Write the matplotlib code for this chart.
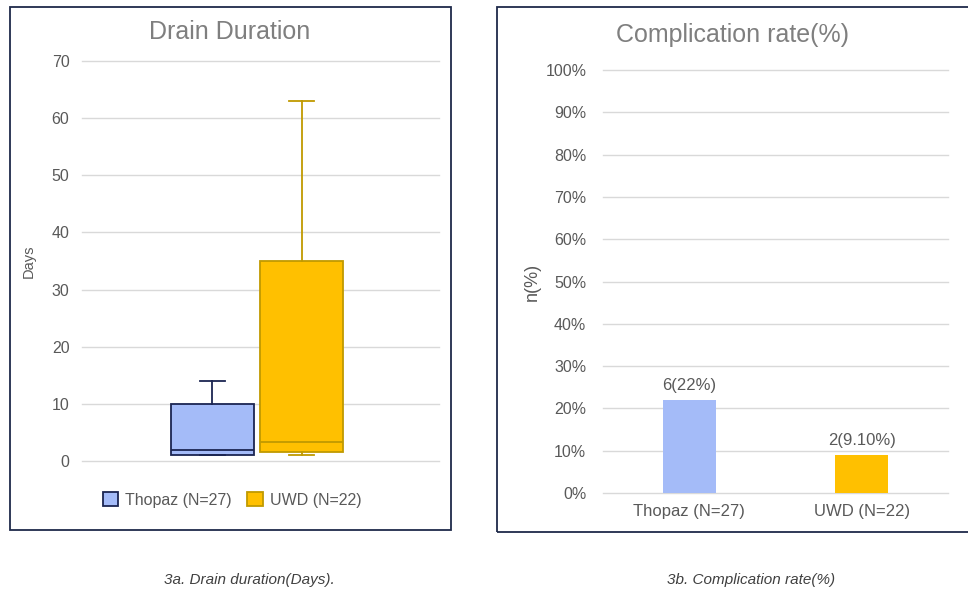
import matplotlib.pyplot as plt
from matplotlib.patches import Rectangle, Patch
from matplotlib.ticker import PercentFormatter

plt.rcParams['font.family'] = ['Liberation Sans', 'DejaVu Sans']

# ====================================
# Data
# ====================================

groups = ["Thopaz (N=27)", "UWD (N=22)"]

# drain duration in days: min, q1, median, q3, max
dur_min = [1, 1]
dur_q1 = [1, 1.5]
dur_med = [2, 3.3]
dur_q3 = [10, 35]
dur_max = [14, 63]

# complication rate
comp_rate = [0.22, 0.091]
comp_labels = ["6(22%)", "2(9.10%)"]

fills = ["#a4bbf8", "#ffc000"]
edges = ["#1b2552", "#c09a00"]

text_gray = "#595959"
grid_gray = "#d9d9d9"
frame_col = "#1f2a4a"

W, H = 968, 594
fig = plt.figure(figsize=(W / 100, H / 100), dpi=100)


def fx(px):
    return px / W


def fy(py):
    return 1 - py / H


# panel frames
fig.add_artist(Rectangle((fx(10), fy(530)), fx(441), (530 - 7) / H,
                         transform=fig.transFigure, fill=False,
                         edgecolor=frame_col, linewidth=1.3))
fig.add_artist(Rectangle((fx(497), fy(532)), fx(480), (532 - 7) / H,
                         transform=fig.transFigure, fill=False,
                         edgecolor=frame_col, linewidth=1.3))

# ====================================
# 3a. Drain Duration box plot
# ====================================

ax1 = fig.add_axes([fx(82), fy(461), fx(357), 400 / H])

stats = []
for i in range(len(groups)):
    stats.append({
        "whislo": dur_min[i],
        "q1": dur_q1[i],
        "med": dur_med[i],
        "q3": dur_q3[i],
        "whishi": dur_max[i],
        "fliers": [],
        "label": groups[i],
    })

positions = [0.365, 0.615]
for i in range(len(groups)):
    ax1.bxp(
        [stats[i]],
        positions=[positions[i]],
        widths=0.232,
        capwidths=0.07,
        patch_artist=True,
        showfliers=False,
        boxprops=dict(facecolor=fills[i], edgecolor=edges[i], linewidth=1.3),
        medianprops=dict(color=edges[i], linewidth=1.3),
        whiskerprops=dict(color=edges[i], linewidth=1.3),
        capprops=dict(color=edges[i], linewidth=1.3),
        zorder=3,
    )

ax1.set_xlim(0, 1)
ax1.set_ylim(0, 70)
ax1.set_yticks(range(0, 71, 10))
ax1.set_xticks([])
ax1.grid(axis="y", color=grid_gray, linewidth=1)
for gl in ax1.get_ygridlines():
    gl.set_clip_on(False)
ax1.set_axisbelow(True)
for s in ax1.spines.values():
    s.set_visible(False)
ax1.tick_params(axis="y", length=0, pad=9, labelsize=11.5,
                labelcolor=text_gray)
ax1.set_ylabel("Days", fontsize=10.5, color=text_gray)
ax1.yaxis.set_label_coords(-0.13, 0.5)

handles = [Patch(facecolor=fills[i], edgecolor=edges[i], linewidth=1.3)
           for i in range(len(groups))]
fig.legend(handles, groups, loc="center", bbox_to_anchor=(fx(232), fy(500)),
           ncol=2, frameon=False, fontsize=11.5, labelcolor=text_gray,
           handlelength=1.0, handleheight=1.0, handletextpad=0.4,
           columnspacing=1.0)

fig.text(fx(230), fy(32), "Drain Duration", ha="center", va="center",
         fontsize=18, color="#7f7f7f")

# ====================================
# 3b. Complication rate bar chart
# ====================================

ax2 = fig.add_axes([fx(603), fy(493), fx(345), 423 / H])

bars = ax2.bar(range(len(groups)), comp_rate, width=0.31, color=fills,
               zorder=3)
for b, lab in zip(bars, comp_labels):
    ax2.annotate(lab, (b.get_x() + b.get_width() / 2, b.get_height()),
                 xytext=(0, 5), textcoords="offset points", ha="center",
                 va="bottom", fontsize=12, color=text_gray)

ax2.set_xlim(-0.5, 1.5)
ax2.set_ylim(0, 1)
ax2.set_yticks([i / 10 for i in range(11)])
ax2.yaxis.set_major_formatter(PercentFormatter(1.0, decimals=0))
ax2.set_xticks(range(len(groups)))
ax2.set_xticklabels(groups)
ax2.grid(axis="y", color=grid_gray, linewidth=1)
for gl in ax2.get_ygridlines():
    gl.set_clip_on(False)
ax2.set_axisbelow(True)
for s in ax2.spines.values():
    s.set_visible(False)
ax2.tick_params(axis="y", length=0, pad=12, labelsize=11.5,
                labelcolor=text_gray)
ax2.tick_params(axis="x", length=0, pad=8, labelsize=12, labelcolor=text_gray)
ax2.set_ylabel("n(%)", fontsize=13, color=text_gray)
ax2.yaxis.set_label_coords(-0.18, 0.5)

fig.text(fx(733), fy(35), "Complication rate(%)", ha="center", va="center",
         fontsize=18, color="#7f7f7f")

# ====================================
# Captions
# ====================================

fig.text(fx(249), fy(580), "3a. Drain duration(Days).", ha="center",
         va="center", fontsize=11, style="italic", color="#404040")
fig.text(fx(751), fy(580), "3b. Complication rate(%)", ha="center",
         va="center", fontsize=11, style="italic", color="#404040")

fig.savefig("out.png", dpi=100)
